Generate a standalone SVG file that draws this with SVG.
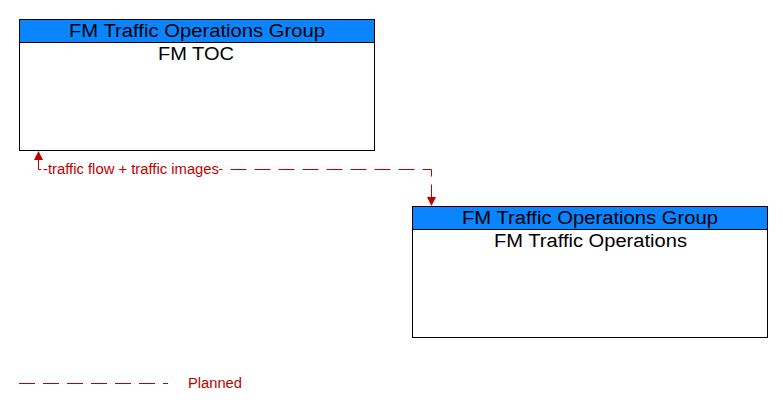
<svg xmlns="http://www.w3.org/2000/svg" width="783" height="412" viewBox="0 0 783 412">
<style>
.box{fill:#fff;stroke:#000;stroke-width:1}
.hdr{fill:#0a84ff;stroke:#000;stroke-width:1}
.t{font-family:"Liberation Sans",Arial,sans-serif;font-size:18px;fill:#000;text-anchor:middle}
.flow{fill:none;stroke:#c00000;stroke-width:1;stroke-dasharray:16 8}
.lbl{font-family:"Liberation Sans",Arial,sans-serif;font-size:14px;fill:#c00000}
</style>
<defs>
<marker id="ah" viewBox="0 0 10 10" refX="10" refY="5" markerWidth="9" markerHeight="9" markerUnits="userSpaceOnUse" orient="auto">
<path d="M0,0 L10,5 L0,10 z" fill="#c00000"/>
</marker>
</defs>
<rect width="783" height="412" fill="#fff"/>
<g id="node-fm-toc">
<rect class="box" x="19.5" y="19.5" width="355" height="131"/>
<rect class="hdr" x="19.5" y="19.5" width="355" height="23"/>
<text class="t" x="197" y="37" textLength="256" lengthAdjust="spacingAndGlyphs">FM Traffic Operations Group</text>
<text class="t" x="196" y="60" textLength="76" lengthAdjust="spacingAndGlyphs">FM TOC</text>
</g>
<g id="node-fm-traffic-operations">
<rect class="box" x="412.5" y="206.5" width="355" height="131"/>
<rect class="hdr" x="412.5" y="206.5" width="355" height="23"/>
<text class="t" x="590" y="224" textLength="256" lengthAdjust="spacingAndGlyphs">FM Traffic Operations Group</text>
<text class="t" x="590.5" y="247" textLength="193" lengthAdjust="spacingAndGlyphs">FM Traffic Operations</text>
</g>
<g id="connectors">
<path class="flow" d="M38.5,169.5 L38.5,151" stroke-dasharray="none" marker-end="url(#ah)"/>
<path class="flow" d="M38.5,169.5 L431.5,169.5 L431.5,206" marker-end="url(#ah)"/>
<rect x="41" y="160" width="178" height="17" fill="#fff"/>
<text class="lbl" x="43" y="174" textLength="176" lengthAdjust="spacingAndGlyphs">-traffic flow + traffic images</text>
</g>
<g id="legend">
<path class="flow" d="M19,383.5 L168,383.5"/>
<text class="lbl" x="188" y="388" textLength="54" lengthAdjust="spacingAndGlyphs">Planned</text>
</g>
</svg>
